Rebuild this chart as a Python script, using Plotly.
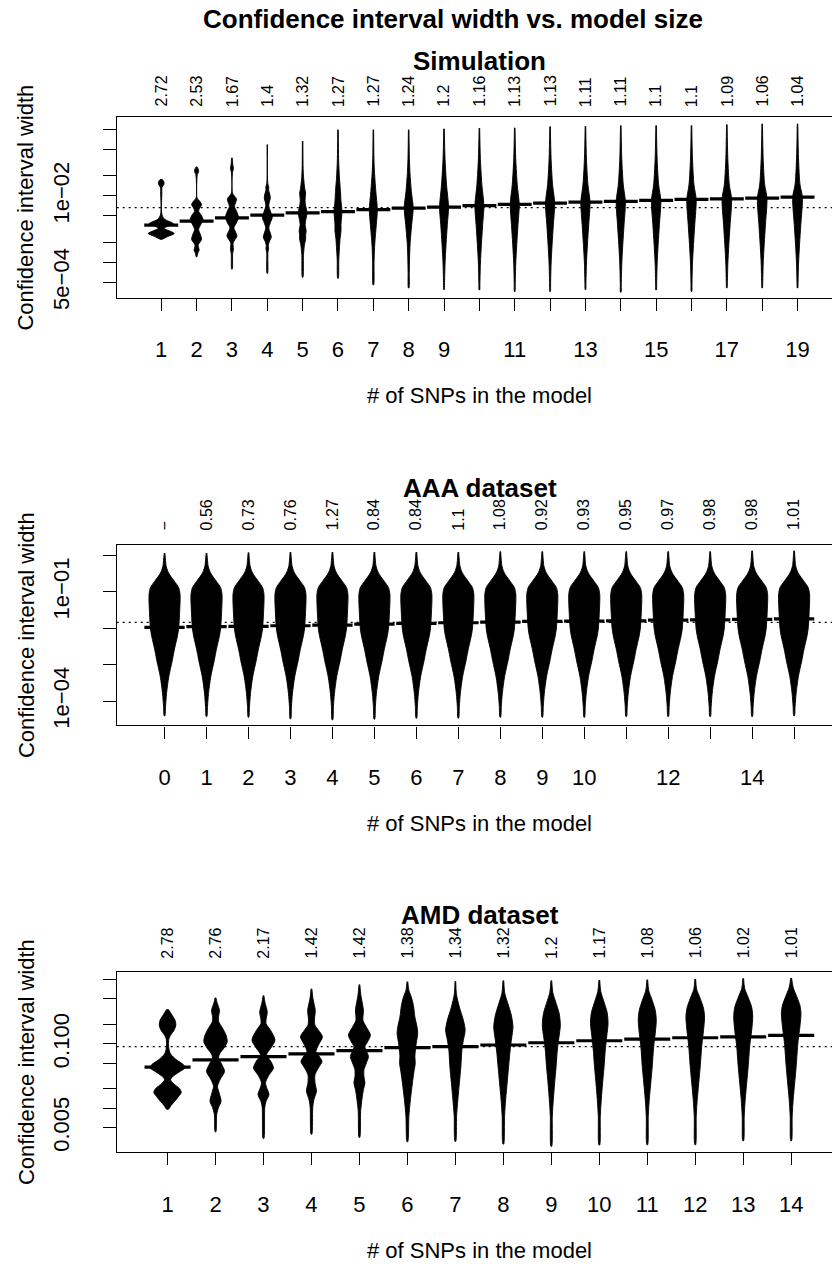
import plotly.graph_objects as go

FONT = "Liberation Sans, Arial, Helvetica, sans-serif"
W, H = 832, 1270

# ---------------- Panel 1: Simulation ----------------
sim_tick_text = ["1", "2", "3", "4", "5", "6", "7", "8", "9", "", "11", "", "13", "", "15", "", "17", "", "19"]
sim_top_labels = ["2.72", "2.53", "1.67", "1.4", "1.32", "1.27", "1.27", "1.24", "1.2", "1.16",
                  "1.13", "1.13", "1.11", "1.11", "1.1", "1.1", "1.09", "1.06", "1.04"]
sim_median_log10 = [-2.441, -2.381, -2.332, -2.291, -2.257, -2.238, -2.208, -2.183, -2.168, -2.148,
                    -2.127, -2.108, -2.093, -2.083, -2.068, -2.053, -2.044, -2.033, -2.018]
sim_ref_log10 = -2.178
sim_ytick_vals = [0.1, 0.05, 0.02, 0.01, 0.005, 0.002, 0.001, 0.0005]
sim_ytick_text = ["", "", "", "1e\u221202", "", "", "", "5e\u221204"]
sim_violin_log10y = [
    [-1.746, -1.787, -1.832, -1.869, -1.959, -2.272, -2.347, -2.417, -2.458, -2.491, -2.526, -2.566, -2.608, -2.655],
    [-1.561, -1.601, -1.635, -1.676, -1.735, -2.033, -2.078, -2.133, -2.183, -2.232, -2.287, -2.357, -2.421, -2.506,
     -2.570, -2.655, -2.704, -2.739, -2.779, -2.819, -2.861, -2.918],
    [-1.427, -1.526, -1.586, -1.646, -1.959, -2.044, -2.108, -2.157, -2.227, -2.321, -2.406, -2.481, -2.540, -2.605,
     -2.660, -2.704, -2.749, -2.804, -2.869, -3.103],
    [-1.228, -1.810, -1.869, -1.914, -1.974, -2.033, -2.093, -2.153, -2.227, -2.321, -2.406, -2.481, -2.540, -2.619,
     -2.690, -2.749, -2.794, -2.854, -3.167],
    [-1.173, -1.586, -1.735, -1.810, -1.884, -1.959, -2.033, -2.108, -2.183, -2.257, -2.332, -2.432, -2.530, -2.585,
     -2.655, -2.719, -2.779, -2.898, -3.226],
    [-1.004, -1.437, -1.586, -1.735, -1.933, -2.078, -2.232, -2.332, -2.432, -2.526, -2.655, -2.779, -2.958, -3.241],
    [-1.004, -1.437, -1.661, -1.933, -2.208, -2.432, -2.605, -2.779, -3.003, -3.341],
    [-1.004, -1.437, -1.661, -1.933, -2.183, -2.432, -2.704, -2.928, -3.152, -3.386],
    [-0.990, -1.437, -1.835, -2.168, -2.432, -2.730, -3.028, -3.326, -3.410],
    [-0.979, -1.437, -1.835, -2.148, -2.432, -2.730, -3.028, -3.326, -3.416],
    [-0.975, -1.437, -1.835, -2.127, -2.432, -2.730, -3.028, -3.326, -3.440],
    [-0.955, -1.437, -1.835, -2.108, -2.432, -2.730, -3.028, -3.326, -3.440],
    [-0.949, -1.437, -1.835, -2.093, -2.432, -2.730, -3.028, -3.326, -3.410],
    [-0.940, -1.437, -1.835, -2.083, -2.432, -2.730, -3.028, -3.326, -3.450],
    [-0.940, -1.437, -1.835, -2.068, -2.432, -2.730, -3.028, -3.326, -3.416],
    [-0.940, -1.437, -1.835, -2.053, -2.432, -2.730, -3.028, -3.326, -3.440],
    [-0.925, -1.437, -1.835, -2.044, -2.432, -2.730, -3.028, -3.326, -3.386],
    [-0.915, -1.437, -1.835, -2.033, -2.432, -2.730, -3.028, -3.326, -3.386],
    [-0.915, -1.437, -1.835, -2.018, -2.432, -2.730, -3.028, -3.326, -3.386],
]
sim_violin_halfw = [
    [0.014, 0.076, 0.071, 0.023, 0.017, 0.017, 0.085, 0.340, 0.170, 0.085, 0.226, 0.368, 0.198, 0.014],
    [0.008, 0.051, 0.057, 0.023, 0.011, 0.014, 0.085, 0.141, 0.085, 0.057, 0.127, 0.184, 0.127, 0.057,
     0.099, 0.141, 0.085, 0.042, 0.057, 0.071, 0.034, 0.008],
    [0.008, 0.023, 0.042, 0.017, 0.017, 0.127, 0.099, 0.071, 0.127, 0.184, 0.127, 0.057, 0.099, 0.141,
     0.085, 0.034, 0.034, 0.042, 0.020, 0.008],
    [0.008, 0.014, 0.042, 0.037, 0.071, 0.085, 0.057, 0.042, 0.085, 0.141, 0.085, 0.042, 0.071, 0.113,
     0.057, 0.028, 0.037, 0.017, 0.008],
    [0.008, 0.014, 0.028, 0.042, 0.057, 0.085, 0.071, 0.071, 0.099, 0.127, 0.099, 0.071, 0.099, 0.085,
     0.085, 0.057, 0.042, 0.023, 0.008],
    [0.008, 0.017, 0.028, 0.042, 0.071, 0.085, 0.113, 0.099, 0.085, 0.085, 0.057, 0.042, 0.023, 0.008],
    [0.008, 0.017, 0.034, 0.071, 0.113, 0.085, 0.057, 0.034, 0.020, 0.008],
    [0.008, 0.020, 0.037, 0.076, 0.127, 0.085, 0.042, 0.025, 0.017, 0.008],
    [0.008, 0.028, 0.071, 0.127, 0.093, 0.057, 0.028, 0.014, 0.008],
    [0.008, 0.028, 0.071, 0.127, 0.093, 0.057, 0.028, 0.014, 0.008],
    [0.008, 0.028, 0.071, 0.127, 0.093, 0.057, 0.028, 0.014, 0.008],
    [0.008, 0.028, 0.071, 0.130, 0.093, 0.057, 0.028, 0.014, 0.008],
    [0.008, 0.028, 0.071, 0.130, 0.093, 0.057, 0.028, 0.014, 0.008],
    [0.008, 0.028, 0.071, 0.130, 0.093, 0.057, 0.028, 0.014, 0.008],
    [0.008, 0.028, 0.071, 0.133, 0.093, 0.057, 0.028, 0.014, 0.008],
    [0.008, 0.028, 0.071, 0.133, 0.093, 0.057, 0.028, 0.014, 0.008],
    [0.008, 0.028, 0.071, 0.135, 0.093, 0.057, 0.028, 0.014, 0.008],
    [0.008, 0.028, 0.071, 0.135, 0.093, 0.057, 0.028, 0.014, 0.008],
    [0.008, 0.028, 0.071, 0.138, 0.093, 0.057, 0.028, 0.014, 0.008],
]

# ---------------- Panel 2: AAA dataset ----------------
aaa_tick_text = ["0", "1", "2", "3", "4", "5", "6", "7", "8", "9", "10", "", "12", "", "14", ""]
aaa_top_labels = ["\u2212", "0.56", "0.73", "0.76", "1.27", "0.84", "0.84", "1.1", "1.08", "0.92",
                  "0.93", "0.95", "0.97", "0.98", "0.98", "1.01"]
aaa_median_log10 = [-1.976, -1.959, -1.948, -1.932, -1.913, -1.886, -1.867, -1.850, -1.831, -1.812,
                    -1.804, -1.796, -1.777, -1.769, -1.758, -1.741]
aaa_ref_log10 = -1.839
aaa_ytick_vals = [1, 0.1, 0.01, 0.001, 0.0001]
aaa_ytick_text = ["", "1e\u221201", "", "", "1e\u221204"]
aaa_top_log10 = [0.065, 0.065, 0.082, 0.093, 0.093, 0.093, 0.093, 0.093, 0.109, 0.109,
                 0.109, 0.109, 0.109, 0.109, 0.128, 0.128]
aaa_bottom_log10 = [-4.408, -4.425, -4.444, -4.490, -4.517, -4.498, -4.471, -4.471, -4.444, -4.444,
                    -4.444, -4.425, -4.425, -4.425, -4.425, -4.408]
aaa_body_log10 = [-0.144, -0.280, -0.416, -0.525, -0.716, -0.879, -1.069, -1.614, -2.022, -2.239,
                  -2.566, -2.893, -3.328, -3.791, -4.144]
aaa_body_halfw = [0.024, 0.036, 0.071, 0.119, 0.238, 0.334, 0.369, 0.357, 0.334, 0.303,
                  0.238, 0.183, 0.102, 0.048, 0.024]

# ---------------- Panel 3: AMD dataset ----------------
amd_tick_text = ["1", "2", "3", "4", "5", "6", "7", "8", "9", "10", "11", "12", "13", "14"]
amd_top_labels = ["2.78", "2.76", "2.17", "1.42", "1.42", "1.38", "1.34", "1.32", "1.2", "1.17",
                  "1.08", "1.06", "1.02", "1.01"]
amd_median_log10 = [-1.361, -1.248, -1.197, -1.156, -1.105, -1.059, -1.043, -1.017, -0.982, -0.951,
                    -0.924, -0.904, -0.889, -0.867]
amd_ref_log10 = -1.043
amd_ytick_vals = [1, 0.5, 0.2, 0.1, 0.05, 0.02, 0.01, 0.005]
amd_ytick_text = ["", "", "", "0.100", "", "", "", "0.005"]
amd_violin_log10y = [
    [-0.462, -0.539, -0.632, -0.709, -0.786, -0.863, -0.924, -1.063, -1.156, -1.248, -1.325, -1.371,
     -1.433, -1.510, -1.556, -1.618, -1.695, -1.757, -1.818, -1.895, -1.957, -2.018],
    [-0.282, -0.354, -0.478, -0.570, -0.647, -0.755, -0.863, -0.966, -1.063, -1.156, -1.222, -1.310,
     -1.428, -1.541, -1.659, -1.757, -1.891, -1.988, -2.095, -2.368],
    [-0.247, -0.354, -0.504, -0.601, -0.683, -0.786, -0.940, -1.048, -1.171, -1.263, -1.376, -1.495,
     -1.607, -1.695, -1.787, -1.895, -1.988, -2.470],
    [-0.143, -0.293, -0.478, -0.616, -0.709, -0.786, -0.889, -1.002, -1.120, -1.186, -1.274, -1.371,
     -1.479, -1.602, -1.736, -1.864, -1.988, -2.404],
    [-0.077, -0.247, -0.478, -0.632, -0.740, -0.863, -0.971, -1.043, -1.109, -1.197, -1.294, -1.402,
     -1.510, -1.607, -1.710, -1.864, -2.049, -2.454],
    [-0.031, -0.169, -0.273, -0.401, -0.581, -0.724, -0.837, -0.971, -1.094, -1.202, -1.299, -1.433,
     -1.607, -1.864, -2.122, -2.522],
    [-0.026, -0.220, -0.427, -0.632, -0.786, -0.940, -1.094, -1.351, -1.607, -1.864, -2.122, -2.516],
    [-0.015, -0.216, -0.370, -0.555, -0.735, -0.909, -1.094, -1.351, -1.607, -1.864, -2.122, -2.558],
    [-0.015, -0.200, -0.354, -0.524, -0.709, -0.909, -1.094, -1.351, -1.607, -1.864, -2.122, -2.593],
    [-0.005, -0.185, -0.339, -0.508, -0.683, -0.878, -1.094, -1.351, -1.607, -1.864, -2.122, -2.573],
    [0.000, -0.169, -0.324, -0.478, -0.632, -0.832, -1.063, -1.351, -1.607, -1.864, -2.122, -2.568],
    [0.011, -0.154, -0.293, -0.447, -0.586, -0.786, -1.032, -1.351, -1.607, -1.864, -2.122, -2.568],
    [0.020, -0.139, -0.277, -0.431, -0.581, -0.786, -1.032, -1.351, -1.607, -1.864, -2.122, -2.507],
    [0.026, -0.123, -0.262, -0.401, -0.528, -0.724, -0.971, -1.351, -1.607, -1.864, -2.122, -2.507],
]
amd_violin_halfw = [
    [0.017, 0.083, 0.156, 0.173, 0.136, 0.063, 0.027, 0.025, 0.063, 0.188, 0.334, 0.365,
     0.250, 0.104, 0.063, 0.125, 0.250, 0.286, 0.229, 0.146, 0.073, 0.017],
    [0.008, 0.031, 0.083, 0.063, 0.063, 0.146, 0.219, 0.244, 0.177, 0.083, 0.063, 0.125,
     0.188, 0.104, 0.042, 0.073, 0.115, 0.063, 0.025, 0.008],
    [0.008, 0.031, 0.079, 0.058, 0.052, 0.146, 0.240, 0.167, 0.063, 0.146, 0.208, 0.104,
     0.042, 0.073, 0.115, 0.052, 0.027, 0.008],
    [0.008, 0.031, 0.079, 0.063, 0.073, 0.146, 0.229, 0.156, 0.094, 0.156, 0.219, 0.146,
     0.073, 0.073, 0.104, 0.052, 0.027, 0.008],
    [0.008, 0.031, 0.083, 0.073, 0.146, 0.229, 0.167, 0.115, 0.146, 0.188, 0.146, 0.094,
     0.094, 0.115, 0.083, 0.052, 0.025, 0.008],
    [0.008, 0.031, 0.083, 0.125, 0.156, 0.198, 0.215, 0.188, 0.167, 0.156, 0.163, 0.136,
     0.104, 0.063, 0.031, 0.008],
    [0.008, 0.021, 0.083, 0.167, 0.204, 0.167, 0.136, 0.115, 0.083, 0.052, 0.025, 0.008],
    [0.008, 0.031, 0.094, 0.167, 0.200, 0.173, 0.142, 0.110, 0.079, 0.048, 0.025, 0.008],
    [0.008, 0.031, 0.094, 0.163, 0.188, 0.156, 0.125, 0.100, 0.069, 0.042, 0.021, 0.008],
    [0.008, 0.031, 0.094, 0.163, 0.183, 0.156, 0.125, 0.100, 0.069, 0.042, 0.021, 0.008],
    [0.008, 0.031, 0.104, 0.167, 0.188, 0.167, 0.131, 0.104, 0.073, 0.042, 0.021, 0.008],
    [0.008, 0.031, 0.104, 0.173, 0.194, 0.173, 0.136, 0.104, 0.073, 0.042, 0.021, 0.008],
    [0.008, 0.031, 0.104, 0.177, 0.198, 0.177, 0.136, 0.104, 0.073, 0.042, 0.021, 0.008],
    [0.008, 0.042, 0.115, 0.183, 0.204, 0.183, 0.142, 0.104, 0.073, 0.042, 0.021, 0.008],
]

aaa_violin_log10y = [[t] + aaa_body_log10 + [b] for t, b in zip(aaa_top_log10, aaa_bottom_log10)]
aaa_violin_halfw = [[0.008] + aaa_body_halfw + [0.008] for _ in aaa_top_log10]

main_title = "Confidence interval width vs. model size"
y_title = "Confidence interval width"
x_title = "# of SNPs in the model"

# ---------------- layout geometry (pixels) ----------------
X0 = 116.7 / W


def py(px):
    return 1 - px / H


panels = [
    dict(name="Simulation", ax="", top=118.3, bot=300.7, xr=[-0.26, 19.975], yr=[-3.535, -0.815],
         vy=sim_violin_log10y, vw=sim_violin_halfw, med=sim_median_log10, ref=sim_ref_log10,
         ttext=sim_tick_text, tops=sim_top_labels, ytv=sim_ytick_vals, ytt=sim_ytick_text, gap=8.5),
    dict(name="AAA dataset", ax="2", top=550.0, bot=732.3, xr=[-0.14, 16.903], yr=[-4.669, 0.291],
         vy=aaa_violin_log10y, vw=aaa_violin_halfw, med=aaa_median_log10, ref=aaa_ref_log10,
         ttext=aaa_tick_text, tops=aaa_top_labels, ytv=aaa_ytick_vals, ytt=aaa_ytick_text, gap=12.5),
    dict(name="AMD dataset", ax="3", top=981.0, bot=1163.3, xr=[-0.06, 14.851], yr=[-2.686, 0.123],
         vy=amd_violin_log10y, vw=amd_violin_halfw, med=amd_median_log10, ref=amd_ref_log10,
         ttext=amd_tick_text, tops=amd_top_labels, ytv=amd_ytick_vals, ytt=amd_ytick_text, gap=11.2),
]

fig = go.Figure()
annotations = []
layout_axes = {}

for p in panels:
    xa, ya = "x" + p["ax"], "y" + p["ax"]
    n = len(p["med"])
    # dotted reference line
    fig.add_trace(go.Scatter(x=p["xr"], y=[10 ** p["ref"]] * 2, mode="lines", xaxis=xa, yaxis=ya,
                             line=dict(color="black", width=1.3, dash="2px,4px"),
                             hoverinfo="skip", showlegend=False))
    # beans
    for i in range(n):
        pos = i + 1
        ly, hw = p["vy"][i], p["vw"][i]
        xs = [pos + w for w in hw] + [pos - w for w in reversed(hw)]
        ys = [10 ** v for v in ly] + [10 ** v for v in reversed(ly)]
        fig.add_trace(go.Scatter(x=xs, y=ys, mode="lines", fill="toself", fillcolor="black",
                                 line=dict(color="black", width=0.9, shape="spline", smoothing=0.8),
                                 xaxis=xa, yaxis=ya, hoverinfo="skip", showlegend=False))
    # median lines
    mx, my = [], []
    for i, m in enumerate(p["med"]):
        mx += [i + 1 - 0.48, i + 1 + 0.48, None]
        my += [10 ** m, 10 ** m, None]
    fig.add_trace(go.Scatter(x=mx, y=my, mode="lines", xaxis=xa, yaxis=ya,
                             line=dict(color="black", width=3.2), hoverinfo="skip", showlegend=False))

    dom_y = [py(p["bot"]), py(p["top"])]
    layout_axes["xaxis" + p["ax"]] = dict(
        domain=[X0, 1.0], range=p["xr"], anchor=ya, tickmode="array",
        tickvals=list(range(1, n + 1)), ticktext=p["ttext"], tickangle=0,
        ticks="outside", ticklen=12, tickwidth=1.3, tickcolor="black",
        showline=True, linecolor="black", linewidth=1.3, mirror=True,
        showgrid=False, zeroline=False, ticklabelstandoff=20,
        tickfont=dict(family=FONT, size=22, color="black"))
    layout_axes["yaxis" + p["ax"]] = dict(
        domain=dom_y, type="log", range=p["yr"], anchor=xa, tickmode="array",
        tickvals=p["ytv"], ticktext=p["ytt"], tickangle=-90,
        ticks="outside", ticklen=13, tickwidth=1.3, tickcolor="black",
        showline=True, linecolor="black", linewidth=1.3, mirror=False,
        showgrid=False, zeroline=False, ticklabelstandoff=25,
        tickfont=dict(family=FONT, size=22, color="black"))

    # numbers above each bean
    for i, t in enumerate(p["tops"]):
        annotations.append(dict(text=t, x=i + 1, xref=xa, y=py(p["top"] - p["gap"]), yref="paper",
                                textangle=-90, xanchor="center", yanchor="bottom", showarrow=False,
                                font=dict(family=FONT, size=16, color="black")))
    # panel title
    annotations.append(dict(text="<b>%s</b>" % p["name"], x=479.5 / W, xref="paper",
                            y=py(p["top"] - 40), yref="paper", xanchor="center", yanchor="bottom",
                            showarrow=False, font=dict(family=FONT, size=26, color="black")))
    # y title
    annotations.append(dict(text=y_title, x=26 / W, xref="paper", y=py((p["top"] + p["bot"]) / 2),
                            yref="paper", textangle=-90, xanchor="center", yanchor="middle",
                            showarrow=False, font=dict(family=FONT, size=22, color="black")))
    # x title
    annotations.append(dict(text=x_title, x=479.5 / W, xref="paper", y=py(p["bot"] + 99),
                            yref="paper", xanchor="center", yanchor="middle",
                            showarrow=False, font=dict(family=FONT, size=22, color="black")))

annotations.append(dict(text="<b>%s</b>" % main_title, x=453 / W, xref="paper", y=py(19.5),
                        yref="paper", xanchor="center", yanchor="middle", showarrow=False,
                        font=dict(family=FONT, size=26, color="black")))

fig.update_layout(width=W, height=H, margin=dict(l=0, r=0, t=0, b=0),
                  paper_bgcolor="white", plot_bgcolor="white", showlegend=False,
                  annotations=annotations, **layout_axes)

fig.write_html("out.html")
